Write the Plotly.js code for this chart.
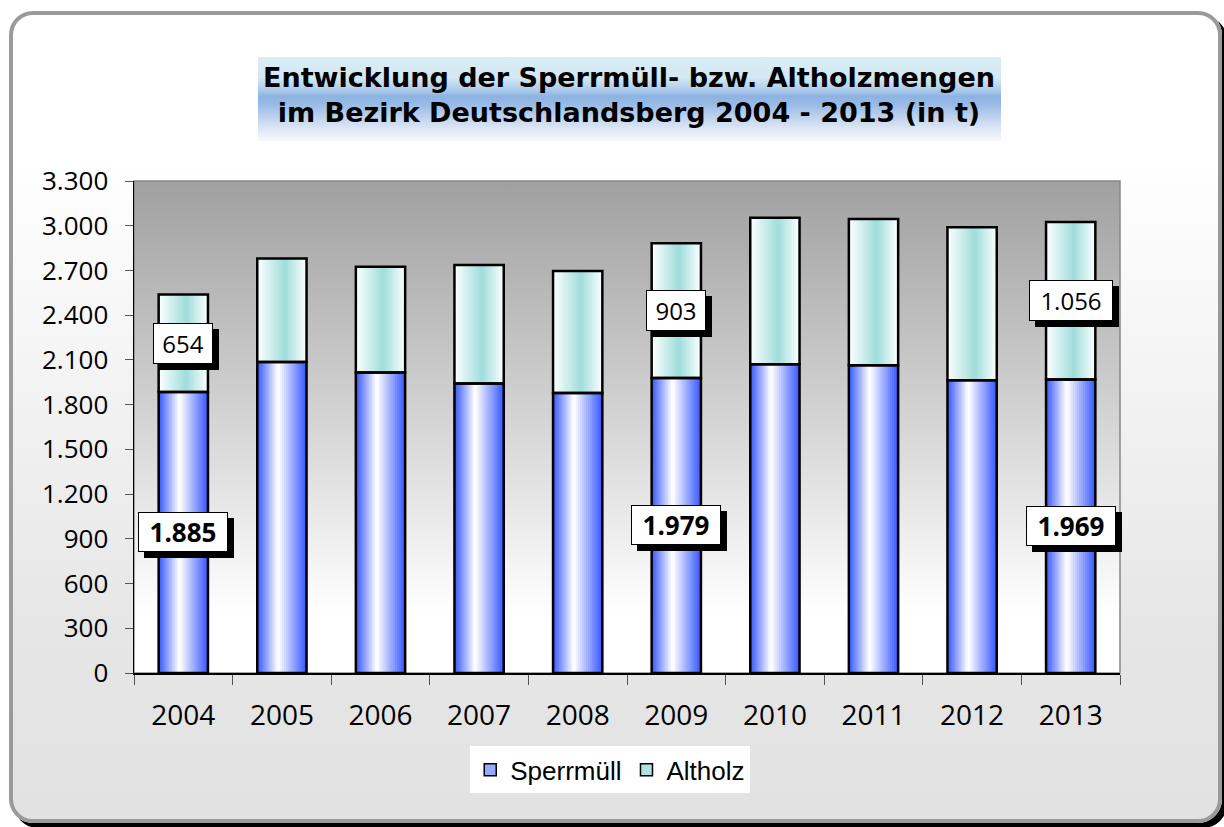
<!DOCTYPE html>
<html>
<head>
<meta charset="utf-8">
<script src="https://cdn.plot.ly/plotly-3.0.1.min.js"></script>
<style>
  html, body { margin: 0; padding: 0; width: 1224px; height: 827px; overflow: hidden; background: #ffffff; }
  #frame {
    position: absolute; left: 9px; top: 11px; width: 1213px; height: 812px;
    box-sizing: border-box; border: 4px solid #9a9a9a; border-radius: 24px;
    box-shadow: 5px 5px 0 #000;
    background: linear-gradient(to bottom, #ffffff 0%, #ffffff 18%, #e6e6e6 76%, #e2e2e2 100%);
  }
  #chart { position: absolute; left: 0; top: 0; width: 1224px; height: 827px; }
</style>
</head>
<body>
<div id="frame"></div>
<div id="chart"></div>
<script>
// ---- data ----
const years = ['2004', '2005', '2006', '2007', '2008', '2009', '2010', '2011', '2012', '2013'];
const sperrmuell = [1885, 2086, 2015, 1941, 1878, 1979, 2071, 2064, 1964, 1969];
const altholz = [654, 695, 710, 795, 818, 903, 983, 981, 1025, 1056];
const labelIdx = [0, 5, 9];
const seriesNames = ['Sperrmüll', 'Altholz'];
const titleText = 'Entwicklung der Sperrmüll- bzw. Altholzmengen<br>im Bezirk Deutschlandsberg 2004 - 2013 (in t)';

// ---- styling helpers ----
const BAR_W = 0.5;
const N = 14;
function mix(a, b, s) {
  return 'rgb(' + a.map((v, i) => Math.round(v + (b[i] - v) * s)).join(',') + ')';
}
// layered bars (edge colour outside, centre colour inside) imitate a horizontal gradient
function gradientLayers(vals, base, edge, center, t0) {
  const out = [];
  for (let k = 0; k < N; k++) {
    const a = t0 * k / N;
    const b = 1 - (1 - t0) * k / N;
    const s = k / (N - 1);
    out.push({
      type: 'bar', x: years, y: vals, base: base,
      width: BAR_W * (b - a), offset: -BAR_W / 2 + BAR_W * a,
      marker: { color: mix(edge, center, s), line: { width: 0 } },
      showlegend: false, hoverinfo: 'skip'
    });
  }
  return out;
}
const zeros = years.map(() => 0);
const traces = []
  .concat(gradientLayers(sperrmuell, zeros, [60, 92, 255], [252, 252, 255], 0.42))
  .concat(gradientLayers(altholz, sperrmuell, [250, 254, 254], [162, 222, 220], 0.56));
// outlines
[[sperrmuell, zeros], [altholz, sperrmuell]].forEach(([v, b]) => {
  traces.push({
    type: 'bar', x: years, y: v, base: b, width: BAR_W,
    marker: { color: 'rgba(0,0,0,0)', line: { color: '#000', width: 2.5 } },
    showlegend: false, hoverinfo: 'skip'
  });
});
// legend entries
const legendColors = ['rgb(150,170,255)', 'rgb(175,226,224)'];
seriesNames.forEach((nm, i) => {
  traces.push({
    type: 'bar', name: nm, x: years, y: years.map(() => null),
    marker: { color: legendColors[i], line: { color: '#000', width: 1.5 } },
    hoverinfo: 'skip'
  });
});

// data labels with drop shadow
const fmt = v => v.toLocaleString('de-DE');
const annotations = [];
labelIdx.forEach(i => {
  const items = [
    { y: sperrmuell[i] / 2, text: fmt(sperrmuell[i]), size: 26, weight: 'bold', h: 34 },
    { y: sperrmuell[i] + altholz[i] / 2, text: fmt(altholz[i]), size: 24, weight: 'normal', h: 35 }
  ];
  items.forEach(it => {
    const w = it.weight === 'bold' ? 84 : (it.text.length > 3 ? 78 : 54);
    const common = {
      x: i, y: it.y, xref: 'x', yref: 'y', showarrow: false,
      width: w, height: it.h, borderpad: 2, borderwidth: 1, align: 'center', valign: 'middle'
    };
    // shadow box
    annotations.push(Object.assign({}, common, {
      text: ' ', xshift: 6, yshift: -6, bgcolor: '#000', bordercolor: '#000',
      font: { family: 'Open Sans', size: it.size, color: '#000' }
    }));
    annotations.push(Object.assign({}, common, {
      text: it.text, bgcolor: '#fff', bordercolor: '#000',
      font: { family: 'Open Sans', size: it.size, color: '#000', weight: it.weight }
    }));
  });
});

function svgUri(stops) {
  const s = "<svg xmlns='http://www.w3.org/2000/svg' width='100' height='100' viewBox='0 0 100 100' preserveAspectRatio='none'>" +
    "<defs><linearGradient id='g' x1='0' y1='0' x2='0' y2='1'>" +
    stops.map(([o, c]) => "<stop offset='" + o + "' stop-color='" + c + "'/>").join('') +
    "</linearGradient></defs><rect x='0' y='0' width='100' height='100' fill='url(#g)'/></svg>";
  return 'data:image/svg+xml;charset=utf-8,' + encodeURIComponent(s);
}

const layout = {
  width: 1224, height: 827,
  paper_bgcolor: 'rgba(0,0,0,0)', plot_bgcolor: 'rgba(0,0,0,0)',
  margin: { l: 134, r: 104, t: 181, b: 154 },
  barmode: 'overlay',
  separators: ',.',
  showlegend: true,
  title: {
    text: titleText, xref: 'container', yref: 'container',
    x: 629 / 1224, xanchor: 'center', y: 1 - 87 / 827, yanchor: 'middle',
    font: { family: 'DejaVu Sans', size: 27, color: '#000', weight: 'bold' }
  },
  xaxis: {
    type: 'category', range: [-0.5, 9.5], autorange: false,
    tickson: 'boundaries', ticks: 'outside', ticklen: 10, tickcolor: '#555', tickwidth: 1,
    showline: true, linecolor: '#000', linewidth: 1.5, showgrid: false, zeroline: false,
    tickangle: 0,
    tickfont: { family: 'Open Sans', size: 28, color: '#000' }, ticklabelstandoff: 17
  },
  yaxis: {
    range: [0, 3300], autorange: false, dtick: 300, tickformat: ',d', ticks: 'outside', ticklen: 8, tickcolor: '#555',
    showline: true, linecolor: '#000', linewidth: 1.5, showgrid: false, zeroline: false,
    tickfont: { family: 'Open Sans', size: 26, color: '#000' }, ticklabelstandoff: 11
  },
  legend: {
    orientation: 'h', x: 0.483, xanchor: 'center', y: -0.197, yanchor: 'middle',
    bgcolor: '#fff', font: { family: 'Liberation Sans', size: 26, color: '#000' },
    traceorder: 'normal', itemwidth: 30
  },
  images: [
    {
      source: svgUri([[0, '#a0a0a0'], [0.88, '#ffffff'], [1, '#ffffff']]),
      xref: 'paper', yref: 'paper', x: 0, y: 1, sizex: 1, sizey: 1,
      xanchor: 'left', yanchor: 'top', sizing: 'stretch', layer: 'below'
    },
    {
      source: svgUri([[0, '#d8edf4'], [0.25, '#d3e8f3'], [0.4, '#aac8ea'], [0.47, '#8db3e2'],
                      [0.56, '#98bae5'], [0.8, '#d2dff2'], [1, '#f8f9fc']]),
      xref: 'paper', yref: 'paper', x: (258 - 134) / 986, y: (673 - 57) / 492,
      sizex: 743 / 986, sizey: 84 / 492,
      xanchor: 'left', yanchor: 'top', sizing: 'stretch', layer: 'below'
    }
  ],
  shapes: [
    { type: 'rect', xref: 'paper', yref: 'paper', x0: 0, x1: 1, y0: 0, y1: 1,
      line: { color: '#888', width: 1.5 }, fillcolor: 'rgba(0,0,0,0)', layer: 'below' }
  ],
  annotations: annotations
};

Plotly.newPlot('chart', traces, layout, { displayModeBar: false, staticPlot: true });
</script>
</body>
</html>
